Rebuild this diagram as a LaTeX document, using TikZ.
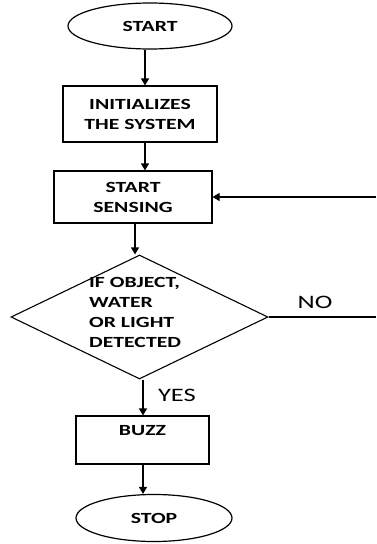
\documentclass[tikz,border=0pt]{standalone}
\usepackage{fontspec}
\setmainfont{Carlito}
\newfontfamily\widefont[FakeStretch=1.4]{Carlito}
\usetikzlibrary{shapes.geometric,arrows.meta}
\begin{document}
\begin{tikzpicture}[x=1pt,y=-1pt,
  every node/.style={font=\widefont\bfseries\fontsize{15.5}{20}\selectfont, text=black},
  proc/.style={draw, line width=1.2pt, rectangle, inner sep=0pt, align=center},
  term/.style={draw, line width=1.2pt, ellipse, inner sep=0pt},
  dec/.style={draw, line width=1.1pt, diamond, inner sep=0pt},
  arr/.style={line width=1.2pt, -{Triangle[length=7pt,width=8pt]}},
  conn/.style={line width=1.1pt},
  lbl/.style={font=\widefont\fontsize{19}{20}\selectfont}]
\useasboundingbox (0,0) rectangle (376,544);
\node[term, minimum width=164pt, minimum height=46pt] (start) at (150,26) {START};
\node[proc, minimum width=154pt, minimum height=56pt] (init) at (140,114) {INITIALIZES\\THE SYSTEM};
\node[proc, minimum width=158pt, minimum height=52pt] (sense) at (133,197) {START\\SENSING};
\node[dec, minimum width=257pt, minimum height=124pt] (dia) at (139.5,317) {};
\node[align=left, anchor=west, inner sep=0pt] (diatxt) at (89,312.5) {IF OBJECT,\\WATER\\OR LIGHT\\DETECTED};
\node[proc, minimum width=133pt, minimum height=48pt] (buzz) at (142.5,440) {BUZZ\\\phantom{B}};
\node[term, minimum width=156pt, minimum height=47pt] (stop) at (154,518) {STOP};
\node[lbl] (no) at (315,302) {NO};
\node[lbl] (yes) at (177,395) {YES};
\coordinate (noend) at (376,317);
\coordinate (back) at (376,197);
\draw[arr] ([xshift=-5pt]start.south) -- ([xshift=5pt]init.north);
\draw[arr] ([xshift=5pt]init.south) -- ([xshift=12pt]sense.north);
\draw[arr] ([xshift=2pt]sense.south) -- ([xshift=-4.5pt]dia.north);
\draw[arr] ([xshift=3.5pt]dia.south) -- ([xshift=0.5pt]buzz.north);
\draw[arr] ([xshift=0.5pt]buzz.south) -- ([xshift=-11pt]stop.north);
\draw[conn] (dia.east) -- (noend);
\draw[arr] (back) -- (sense.east);
\end{tikzpicture}
\end{document}
